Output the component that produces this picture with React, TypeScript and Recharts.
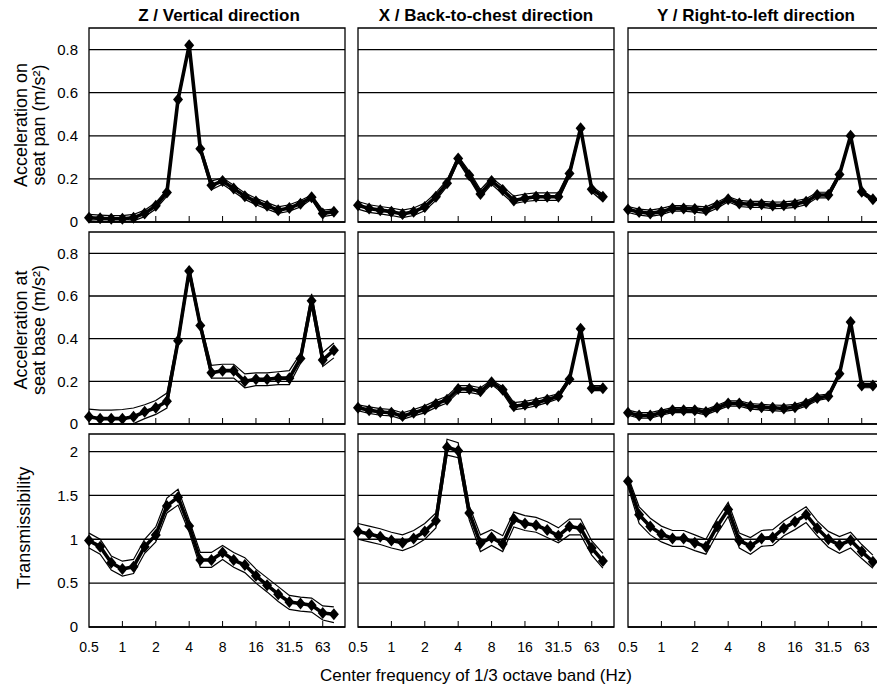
import React from "react"
import { LineChart, Line, XAxis, YAxis, ReferenceLine, ReferenceArea } from "recharts"

// 1/3 octave band centre frequencies (Hz)
const bands = ["0.5", "0.63", "0.8", "1", "1.25", "1.6", "2", "2.5", "3.15", "4", "5", "6.3", "8", "10", "12.5", "16", "20", "25", "31.5", "40", "50", "63", "80"]
const tickIdx = [0, 3, 6, 9, 12, 15, 18, 21]

const colTitles = ["Z / Vertical direction", "X / Back-to-chest direction", "Y / Right-to-left direction"]

const accelTicks = [0, 0.2, 0.4, 0.6, 0.8]
const transTicks = [0, 0.5, 1, 1.5, 2]

// acceleration on seat pan (m/s2)
const zPan = [0.02, 0.017, 0.015, 0.015, 0.02, 0.04, 0.075, 0.137, 0.568, 0.82, 0.34, 0.17, 0.19, 0.155, 0.12, 0.095, 0.075, 0.055, 0.065, 0.085, 0.115, 0.04, 0.048]
const zPanHi = [0.035, 0.032, 0.03, 0.03, 0.035, 0.055, 0.09, 0.15, 0.58, 0.83, 0.355, 0.19, 0.205, 0.17, 0.135, 0.11, 0.09, 0.07, 0.08, 0.1, 0.125, 0.055, 0.06]
const zPanLo = [0.005, 0.003, 0.002, 0.002, 0.005, 0.025, 0.06, 0.12, 0.555, 0.805, 0.325, 0.15, 0.175, 0.14, 0.105, 0.08, 0.06, 0.04, 0.05, 0.07, 0.105, 0.025, 0.033]

const xPan = [0.078, 0.063, 0.055, 0.048, 0.037, 0.048, 0.07, 0.117, 0.18, 0.295, 0.217, 0.13, 0.19, 0.148, 0.1, 0.11, 0.117, 0.117, 0.117, 0.225, 0.435, 0.152, 0.117]
const xPanHi = [0.095, 0.08, 0.072, 0.065, 0.055, 0.065, 0.088, 0.135, 0.195, 0.305, 0.235, 0.15, 0.205, 0.165, 0.12, 0.13, 0.135, 0.135, 0.135, 0.24, 0.445, 0.165, 0.13]
const xPanLo = [0.06, 0.045, 0.038, 0.03, 0.02, 0.03, 0.052, 0.1, 0.165, 0.28, 0.2, 0.115, 0.175, 0.13, 0.085, 0.095, 0.1, 0.1, 0.1, 0.21, 0.425, 0.14, 0.095]

const yPan = [0.058, 0.046, 0.04, 0.048, 0.063, 0.063, 0.06, 0.055, 0.078, 0.106, 0.086, 0.082, 0.082, 0.077, 0.078, 0.083, 0.094, 0.125, 0.125, 0.22, 0.4, 0.14, 0.105]
const yPanHi = [0.072, 0.06, 0.055, 0.063, 0.076, 0.076, 0.074, 0.07, 0.092, 0.118, 0.1, 0.096, 0.096, 0.092, 0.093, 0.098, 0.108, 0.138, 0.138, 0.23, 0.405, 0.15, 0.112]
const yPanLo = [0.044, 0.032, 0.026, 0.034, 0.05, 0.05, 0.046, 0.04, 0.064, 0.094, 0.072, 0.068, 0.068, 0.062, 0.063, 0.068, 0.08, 0.112, 0.112, 0.21, 0.395, 0.13, 0.095]

// acceleration at seat base (m/s2)
const zBase = [0.034, 0.025, 0.025, 0.025, 0.034, 0.057, 0.076, 0.107, 0.39, 0.717, 0.462, 0.24, 0.25, 0.25, 0.2, 0.21, 0.21, 0.215, 0.215, 0.307, 0.578, 0.3, 0.346]
const zBaseHi = [0.07, 0.065, 0.065, 0.068, 0.075, 0.09, 0.11, 0.145, 0.41, 0.74, 0.48, 0.275, 0.28, 0.28, 0.235, 0.24, 0.24, 0.245, 0.25, 0.33, 0.61, 0.335, 0.38]
const zBaseLo = [0.002, 0, 0, 0, 0.002, 0.025, 0.045, 0.075, 0.37, 0.695, 0.445, 0.215, 0.215, 0.215, 0.17, 0.18, 0.18, 0.185, 0.185, 0.285, 0.55, 0.27, 0.31]

const xBase = [0.076, 0.065, 0.056, 0.053, 0.037, 0.053, 0.068, 0.094, 0.114, 0.164, 0.164, 0.153, 0.196, 0.16, 0.083, 0.09, 0.1, 0.114, 0.13, 0.21, 0.447, 0.168, 0.168]
const xBaseHi = [0.09, 0.08, 0.072, 0.068, 0.052, 0.068, 0.085, 0.11, 0.13, 0.18, 0.18, 0.17, 0.205, 0.175, 0.1, 0.106, 0.116, 0.128, 0.142, 0.22, 0.452, 0.18, 0.18]
const xBaseLo = [0.062, 0.05, 0.041, 0.038, 0.022, 0.038, 0.052, 0.078, 0.098, 0.148, 0.148, 0.138, 0.185, 0.145, 0.066, 0.074, 0.085, 0.1, 0.118, 0.2, 0.44, 0.156, 0.156]

const yBase = [0.053, 0.04, 0.04, 0.053, 0.065, 0.065, 0.065, 0.056, 0.076, 0.096, 0.096, 0.083, 0.079, 0.076, 0.073, 0.079, 0.096, 0.122, 0.13, 0.235, 0.478, 0.18, 0.18]
const yBaseHi = [0.065, 0.053, 0.053, 0.065, 0.077, 0.077, 0.077, 0.069, 0.088, 0.108, 0.108, 0.096, 0.092, 0.089, 0.087, 0.092, 0.108, 0.134, 0.14, 0.245, 0.483, 0.19, 0.19]
const yBaseLo = [0.041, 0.028, 0.028, 0.041, 0.053, 0.053, 0.053, 0.043, 0.064, 0.084, 0.084, 0.07, 0.066, 0.063, 0.059, 0.066, 0.084, 0.11, 0.12, 0.225, 0.473, 0.17, 0.17]

// transmissibility
const zTrans = [0.985, 0.916, 0.733, 0.66, 0.687, 0.916, 1.05, 1.38, 1.48, 1.15, 0.763, 0.763, 0.85, 0.763, 0.706, 0.584, 0.477, 0.374, 0.286, 0.267, 0.248, 0.16, 0.145]
const zTransHi = [1.07, 1.0, 0.81, 0.75, 0.77, 1.0, 1.14, 1.47, 1.57, 1.22, 0.85, 0.85, 0.93, 0.85, 0.79, 0.66, 0.56, 0.46, 0.36, 0.34, 0.33, 0.24, 0.23]
const zTransLo = [0.9, 0.83, 0.65, 0.58, 0.61, 0.84, 0.97, 1.3, 1.39, 1.08, 0.68, 0.68, 0.77, 0.68, 0.62, 0.5, 0.4, 0.29, 0.2, 0.18, 0.17, 0.08, 0.05]

const xTrans = [1.088, 1.06, 1.03, 0.985, 0.96, 1.01, 1.088, 1.21, 2.05, 2.01, 1.3, 0.954, 1.02, 0.947, 1.23, 1.18, 1.16, 1.107, 1.04, 1.145, 1.126, 0.9, 0.752]
const xTransHi = [1.18, 1.15, 1.12, 1.08, 1.05, 1.1, 1.18, 1.3, 2.14, 2.1, 1.38, 1.05, 1.11, 1.04, 1.31, 1.27, 1.25, 1.2, 1.13, 1.23, 1.23, 0.98, 0.84]
const xTransLo = [1.0, 0.97, 0.94, 0.9, 0.87, 0.92, 1.0, 1.13, 1.96, 1.93, 1.22, 0.86, 0.93, 0.86, 1.14, 1.1, 1.08, 1.02, 0.96, 1.05, 1.05, 0.82, 0.67]

const yTrans = [1.66, 1.28, 1.145, 1.057, 1.01, 1.01, 0.96, 0.916, 1.145, 1.34, 0.985, 0.924, 1.01, 1.02, 1.126, 1.2, 1.28, 1.126, 1.0, 0.935, 0.99, 0.86, 0.744]
const yTransHi = [1.72, 1.37, 1.24, 1.15, 1.1, 1.1, 1.05, 1.0, 1.23, 1.42, 1.07, 1.02, 1.1, 1.11, 1.21, 1.29, 1.37, 1.21, 1.09, 1.03, 1.08, 0.94, 0.82]
const yTransLo = [1.6, 1.18, 1.05, 0.97, 0.92, 0.92, 0.87, 0.83, 1.06, 1.26, 0.9, 0.83, 0.92, 0.93, 1.04, 1.11, 1.19, 1.04, 0.91, 0.84, 0.9, 0.78, 0.67]

const FONT = '"Liberation Sans", Arial, sans-serif'

// layout of the 3x3 grid (plot areas)
const colLeft = [89, 358, 628]
const plotW = 256
const rowTop = [28, 232, 434]
const rowH = [194, 192, 193]
const rowMax = [0.9, 0.9, 2.2]
const rowTicks = [accelTicks, accelTicks, transTicks]
const M = 6
const M_LEFT = 16 // room for the "0.5" label of the inner columns
const Y_W = 40
const X_H = 30

const panels = [
	{ row: 0, col: 0, m: zPan, hi: zPanHi, lo: zPanLo },
	{ row: 0, col: 1, m: xPan, hi: xPanHi, lo: xPanLo },
	{ row: 0, col: 2, m: yPan, hi: yPanHi, lo: yPanLo },
	{ row: 1, col: 0, m: zBase, hi: zBaseHi, lo: zBaseLo },
	{ row: 1, col: 1, m: xBase, hi: xBaseHi, lo: xBaseLo },
	{ row: 1, col: 2, m: yBase, hi: yBaseHi, lo: yBaseLo },
	{ row: 2, col: 0, m: zTrans, hi: zTransHi, lo: zTransLo },
	{ row: 2, col: 1, m: xTrans, hi: xTransHi, lo: xTransLo },
	{ row: 2, col: 2, m: yTrans, hi: yTransHi, lo: yTransLo },
]

const Diamond = (props: any) => {
	const { cx, cy, index } = props
	if (cx == null || cy == null) return <g key={index} />
	return (
		<path
			key={index}
			d={`M${cx},${cy - 6}L${cx + 5},${cy}L${cx},${cy + 6}L${cx - 5},${cy}Z`}
			fill="#000"
		/>
	)
}

const FreqTick = (props: any) => {
	const { x, y, payload, showLabel } = props
	return (
		<g>
			{payload.value > 0 && <line x1={x} x2={x} y1={y} y2={y - 6} stroke="#000" strokeWidth={1} />}
			{showLabel && (
				<text x={x} y={y + 25} textAnchor="middle" fontSize={14} fill="#000" fontFamily={FONT}>
					{bands[payload.value]}
				</text>
			)}
		</g>
	)
}

function Panel({ row, col, m, hi, lo }: { row: number; col: number; m: number[]; hi: number[]; lo: number[] }) {
	const data = bands.map((b, i) => ({ i, band: b, m: m[i], hi: hi[i], lo: lo[i] }))
	const showY = col === 0
	const padLeft = showY ? M + Y_W : M_LEFT
	const width = plotW + M + padLeft
	const height = rowH[row] + 2 * M + X_H
	const left = colLeft[col] - padLeft
	const top = rowTop[row] - M
	const yMax = rowMax[row]
	return (
		<div style={{ position: "absolute", left, top, width, height }}>
			<LineChart
				width={width}
				height={height}
				data={data}
				margin={{ top: M, right: M, bottom: M, left: showY ? M : M_LEFT }}
			>
				<XAxis
					dataKey="i"
					type="number"
					domain={[0, 23]}
					ticks={tickIdx}
					interval={0}
					height={X_H}
					axisLine={false}
					tickLine={false}
					tickSize={0}
					tickMargin={0}
					tick={<FreqTick showLabel={row === 2} />}
				/>
				<YAxis
					type="number"
					domain={[0, yMax]}
					ticks={rowTicks[row]}
					interval={0}
					hide={!showY}
					width={Y_W}
					axisLine={false}
					tickLine={false}
					tickSize={0}
					tickMargin={11}
					tick={{ fontSize: 15, fill: "#000", fontFamily: FONT }}
				/>
				{rowTicks[row].map((t) => (
					<ReferenceLine key={t} y={t} stroke="#000" strokeWidth={1.3} />
				))}
				<ReferenceArea x1={0} x2={23} y1={0} y2={yMax} fill="none" stroke="#000" strokeWidth={1.3} />
				<Line type="linear" dataKey="hi" stroke="#000" strokeWidth={1.2} dot={false} isAnimationActive={false} />
				<Line type="linear" dataKey="lo" stroke="#000" strokeWidth={1.2} dot={false} isAnimationActive={false} />
				<Line
					type="linear"
					dataKey="m"
					stroke="#000"
					strokeWidth={3.6}
					strokeLinejoin="round"
					dot={(p: any) => <Diamond key={p.index} {...p} />}
					isAnimationActive={false}
				/>
			</LineChart>
		</div>
	)
}

export default function App() {
	const colCenters = colLeft.map((l) => l + plotW / 2)
	return (
		<div
			style={{
				position: "absolute",
				left: 0,
				top: 0,
				width: 877,
				height: 689,
				overflow: "hidden",
				background: "#fff",
				fontFamily: FONT,
			}}
		>
			{panels.map((p) => (
				<Panel key={`${p.row}-${p.col}`} {...p} />
			))}
			<svg width={877} height={689} style={{ position: "absolute", left: 0, top: 0, pointerEvents: "none" }}>
				{colTitles.map((t, i) => (
					<text key={t} x={colCenters[i] + (i === 0 ? 2 : 0)} y={21} textAnchor="middle" fontSize={17} fontWeight="bold" fill="#000" fontFamily={FONT}>
						{t}
					</text>
				))}
				<g transform="translate(27,125) rotate(-90)">
					<text x={0} y={0} textAnchor="middle" fontSize={18} fill="#000" fontFamily={FONT}>Acceleration on</text>
					<text x={0} y={18} textAnchor="middle" fontSize={18} fill="#000" fontFamily={FONT}>seat pan (m/s²)</text>
				</g>
				<g transform="translate(27,330) rotate(-90)">
					<text x={0} y={0} textAnchor="middle" fontSize={18} fill="#000" fontFamily={FONT}>Acceleration at</text>
					<text x={0} y={18} textAnchor="middle" fontSize={18} fill="#000" fontFamily={FONT}>seat base (m/s²)</text>
				</g>
				<g transform="translate(30,528) rotate(-90)">
					<text x={0} y={0} textAnchor="middle" fontSize={18} fill="#000" fontFamily={FONT}>Transmissibility</text>
				</g>
				<text x={476} y={681} textAnchor="middle" fontSize={17} fill="#000" fontFamily={FONT}>
					Center frequency of 1/3 octave band (Hz)
				</text>
			</svg>
		</div>
	)
}
